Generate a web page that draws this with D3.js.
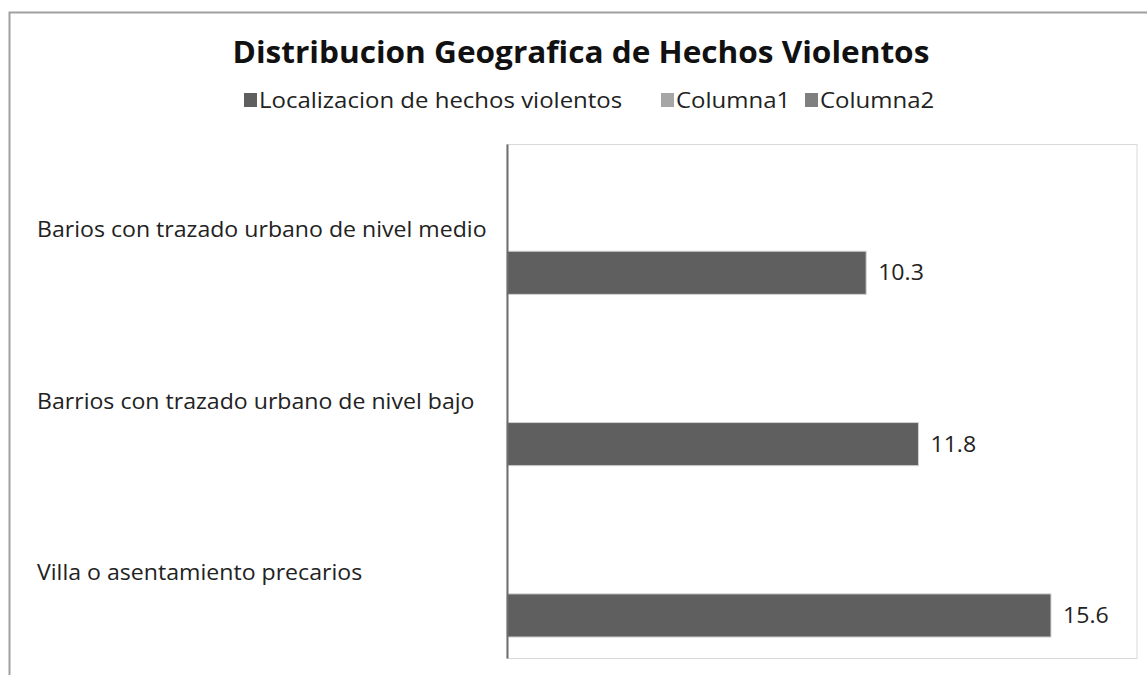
<!DOCTYPE html>
<html>
<head>
<meta charset="utf-8">
<script src="https://cdn.jsdelivr.net/npm/d3@7"></script>
<style>
	body { margin: 0; background: #fff; }
	text { font-family: "Open Sans", "Noto Sans", sans-serif; }
</style>
</head>
<body>
<svg id="chart"></svg>
<script>
const categories = ["Barios con trazado urbano de nivel medio",
					"Barrios con trazado urbano de nivel bajo",
					"Villa o asentamiento precarios"];
const seriesNames = ["Localizacion de hechos violentos", "Columna1", "Columna2"];
const seriesColors = ["#5f5f5f", "#a6a6a6", "#7f7f7f"];
const hechos = [10.3, 11.8, 15.6];
const columna1 = [null, null, null];
const columna2 = [null, null, null];

const WIDTH = 1147,
	HEIGHT = 675,
	MARGINS = { top: 144, right: 10, bottom: 17, left: 507 },
	plotRight = 1137;

let svg = d3.select("#chart")
	.attr("width", WIDTH)
	.attr("height", HEIGHT);

// outer chart frame
svg.append("rect")
	.attr("x", 9.5).attr("y", 12.5)
	.attr("width", WIDTH + 10).attr("height", HEIGHT + 10)
	.attr("fill", "none")
	.attr("stroke", "#a0a0a0")
	.attr("stroke-width", 2);

let yScale = d3.scaleBand()
	.domain(categories)
	.range([MARGINS.top, HEIGHT - MARGINS.bottom])
	.paddingInner(0.245)
	.paddingOuter(0.1225);

// Excel draws the first series at the bottom of each group
let ySeries = d3.scaleBand()
	.domain(seriesNames.slice().reverse())
	.range([0, yScale.bandwidth()]);

let xScale = d3.scaleLinear()
	.domain([0, 18])
	.range([MARGINS.left, MARGINS.left + 18 * 34.87]);

// plot area border
svg.append("rect")
	.attr("x", MARGINS.left).attr("y", MARGINS.top + 0.5)
	.attr("width", plotRight - MARGINS.left)
	.attr("height", HEIGHT - MARGINS.bottom - MARGINS.top)
	.attr("fill", "none")
	.attr("stroke", "#d9d9d9")
	.attr("stroke-width", 1);

let allSeries = [hechos, columna1, columna2];
for (let s = 0; s < allSeries.length; s++) {
	svg.append("g")
		.selectAll("rect")
		.data(allSeries[s].map(function (v, i) { return { cat: categories[i], value: v }; })
			.filter(function (d) { return d.value !== null; }))
		.enter().append("rect")
		.attr("x", xScale(0))
		.attr("y", function (d) { return yScale(d.cat) + ySeries(seriesNames[s]); })
		.attr("width", function (d) { return xScale(d.value) - xScale(0); })
		.attr("height", ySeries.bandwidth())
		.attr("fill", seriesColors[s])
		.attr("stroke", "#d0d0d0")
		.attr("stroke-width", 1);
}

// data labels
svg.append("g")
	.selectAll("text")
	.data(hechos)
	.enter().append("text")
	.attr("class", "label")
	.attr("x", function (d) { return xScale(d) + 12; })
	.attr("y", function (d, i) { return yScale(categories[i]) + ySeries(seriesNames[0]) + ySeries.bandwidth() / 2; })
	.attr("dy", "0.35em")
	.attr("font-size", 22)
	.attr("fill", "#222")
	.text(function (d) { return d.toFixed(1); });

// vertical axis line
let yAxis = d3.axisLeft(yScale).tickSize(0).tickFormat("");
svg.append("g")
	.attr("transform", "translate(" + MARGINS.left + ",0)")
	.call(yAxis)
	.call(function (g) { g.select(".domain").attr("stroke", "#6e6e6e").attr("stroke-width", 2); });

// category labels, left aligned like the reference
svg.append("g")
	.selectAll("text")
	.data(categories)
	.enter().append("text")
	.attr("class", "label")
	.attr("x", 37)
	.attr("y", function (d) { return yScale(d) + yScale.bandwidth() / 2; })
	.attr("dy", "0.35em")
	.attr("font-size", 22)
	.attr("fill", "#222")
	.text(function (d) { return d; });

// title
svg.append("text")
	.attr("class", "title")
	.attr("x", 581)
	.attr("y", 52.5)
	.attr("dy", "0.35em")
	.attr("text-anchor", "middle")
	.attr("font-size", 29.5)
	.attr("font-weight", "bold")
	.attr("fill", "#111")
	.text("Distribucion Geografica de Hechos Violentos");

// legend
let legendX = [244, 661, 805];
let legend = svg.append("g");
for (let i = 0; i < seriesNames.length; i++) {
	legend.append("rect")
		.attr("x", legendX[i]).attr("y", 93)
		.attr("width", 13).attr("height", 14)
		.attr("fill", seriesColors[i]);
	legend.append("text")
		.attr("class", "legend")
		.attr("x", legendX[i] + 15)
		.attr("y", 100)
		.attr("dy", "0.35em")
		.attr("font-size", 22)
		.attr("fill", "#222")
		.text(seriesNames[i]);
}

// Calibri is not installed; stretch the text to the reference widths
function stretch(sel, k) {
	sel.each(function () {
		let w = this.getComputedTextLength();
		d3.select(this).attr("textLength", w * k).attr("lengthAdjust", "spacingAndGlyphs");
	});
}
stretch(svg.selectAll("text.label"), 1.05);
stretch(svg.selectAll("text.title"), 1.07);
stretch(svg.selectAll("text.legend"), 1.09);
</script>
</body>
</html>
